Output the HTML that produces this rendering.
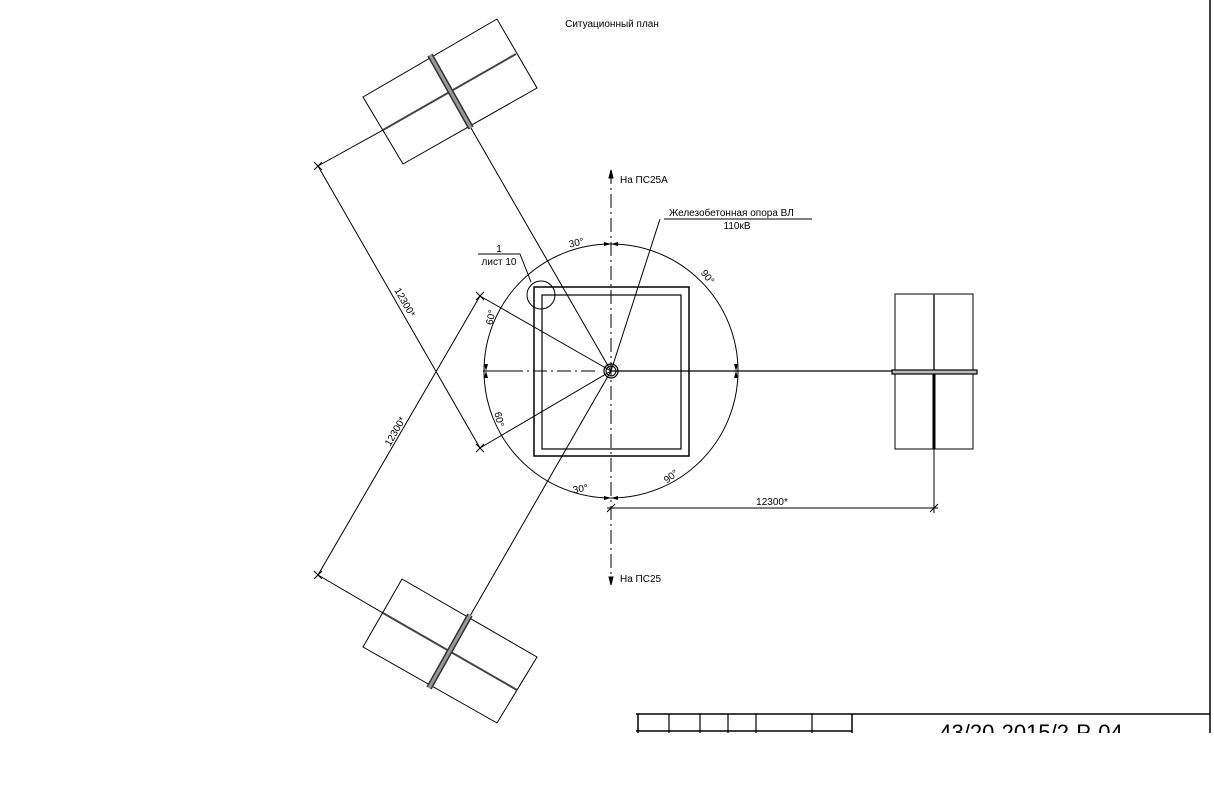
<!DOCTYPE html>
<html><head><meta charset="utf-8"><style>
html,body{margin:0;padding:0;background:#fff;}
svg{display:block;}
text{font-family:"Liberation Sans",sans-serif;fill:#000;}
</style></head><body>
<svg width="1214" height="787" viewBox="0 0 1214 787" xmlns="http://www.w3.org/2000/svg">
<g stroke="#000" fill="none" stroke-width="1">
<!-- frame -->
<line x1="1210" y1="0" x2="1210" y2="733" stroke-width="1.5"/>
<line x1="636" y1="714" x2="1210" y2="714" stroke-width="1.5"/>
<line x1="636" y1="731" x2="852" y2="731" stroke-width="1.5"/>
<line x1="638" y1="714" x2="638" y2="733" stroke-width="1.5"/>
<line x1="669" y1="714" x2="669" y2="733" stroke-width="1.2"/>
<line x1="700" y1="714" x2="700" y2="733" stroke-width="1.2"/>
<line x1="728" y1="714" x2="728" y2="733" stroke-width="1.2"/>
<line x1="756" y1="714" x2="756" y2="733" stroke-width="1.2"/>
<line x1="812" y1="714" x2="812" y2="733" stroke-width="1.2"/>
<line x1="852" y1="714" x2="852" y2="733" stroke-width="1.5"/>

<!-- big circle -->
<circle cx="611" cy="371" r="127" stroke-width="1"/>
<!-- square -->
<rect x="534" y="287" width="155" height="169" stroke-width="1.5"/>
<rect x="542" y="295" width="139" height="154" stroke-width="1.2"/>
<!-- axes -->
<line x1="611" y1="170" x2="611" y2="585" stroke-dasharray="14,4,2,4" stroke-width="1"/>
<line x1="483" y1="371" x2="611" y2="371" stroke-dasharray="40,4,2,4,14,4,2,4,14,4,2,4,14" stroke-width="1"/>
<line x1="611" y1="371" x2="892" y2="371" stroke-width="1.2"/>
<path d="M611,170 l-2,8 l4,0 z M611,585 l-2,-8 l4,0 z" fill="#000"/>
<circle cx="611" cy="371" r="7" stroke-width="1.2"/>
<circle cx="611" cy="371" r="5" stroke-width="1"/>
<!-- radial lines -->
<line x1="611" y1="371" x2="471" y2="128" stroke-width="1"/>
<line x1="611" y1="371" x2="470" y2="616" stroke-width="1"/>
<line x1="611" y1="371" x2="480" y2="296" stroke-width="1"/>
<line x1="611" y1="371" x2="480" y2="448" stroke-width="1"/>
<line x1="611" y1="371" x2="660" y2="219" stroke-width="1"/>
<!-- leader -->
<line x1="664" y1="219" x2="812" y2="219" stroke-width="1"/>
<line x1="478" y1="254" x2="520" y2="254" stroke-width="1"/>
<line x1="520" y1="254" x2="531" y2="282" stroke-width="1"/>
<circle cx="541" cy="295" r="14" stroke-width="1"/>
<!-- dimension lines -->
<line x1="318" y1="166" x2="480" y2="448" stroke-width="1"/>
<line x1="318" y1="166" x2="383" y2="130" stroke-width="1"/>
<line x1="480" y1="296" x2="318" y2="575" stroke-width="1"/>
<line x1="318" y1="575" x2="383" y2="613" stroke-width="1"/>
<line x1="607" y1="508" x2="938" y2="508" stroke-width="1"/>
<line x1="934" y1="449" x2="934" y2="513" stroke-width="1"/>
<g stroke-width="1">
<path d="M314,162 l8,8 M314,170 l8,-8"/>
<path d="M476,444 l8,8 M476,452 l8,-8"/>
<path d="M476,292 l8,8 M476,300 l8,-8"/>
<path d="M314,571 l8,8 M314,579 l8,-8"/>
<path d="M607,512 l8,-8 M930,512 l8,-8"/>
</g>
<!-- top transformer -->
<polygon points="363,97 497,19 537,88 403,164" stroke-width="1"/>
<line x1="383" y1="130" x2="516" y2="54" stroke-width="2" stroke="#444"/>
<line x1="430" y1="55" x2="471" y2="128" stroke-width="6" stroke="#333"/>
<line x1="430" y1="55" x2="471" y2="128" stroke-width="3" stroke="#999"/>
<!-- bottom transformer -->
<polygon points="363,647 402,579 537,657 497,723" stroke-width="1"/>
<line x1="383" y1="613" x2="517" y2="690" stroke-width="2" stroke="#444"/>
<line x1="470" y1="615" x2="429" y2="688" stroke-width="6" stroke="#333"/>
<line x1="470" y1="615" x2="429" y2="688" stroke-width="3" stroke="#999"/>
<!-- right transformer -->
<rect x="895" y="294" width="78" height="155" stroke-width="1"/>
<line x1="934" y1="294" x2="934" y2="370" stroke-width="2" stroke="#555"/>
<line x1="934" y1="374" x2="934" y2="449" stroke-width="3"/>
<rect x="892" y="370" width="85" height="4" stroke-width="1.2" fill="#bbb"/>
<!-- arc arrows -->
<g fill="#000" stroke="none">
<path d="M486,371 l-2,-7 l4,0 z"/><path d="M486,371 l-2,7 l4,0 z"/>
<path d="M736,371 l-2,-7 l4,0 z"/><path d="M736,371 l-2,7 l4,0 z"/>
<path d="M611,498 l-7,-2 l0,4 z"/><path d="M611,498 l7,-2 l0,4 z"/>
<path d="M611,244 l-7,-2 l0,4 z"/><path d="M611,244 l7,-2 l0,4 z"/>
</g>
</g>
<!-- text -->
<text x="612" y="27" font-size="10" text-anchor="middle">Ситуационный план</text>
<text x="620" y="183" font-size="10">На ПС25А</text>
<text x="620" y="582" font-size="10">На ПС25</text>
<text x="669" y="216" font-size="10">Железобетонная опора ВЛ</text>
<text x="737" y="229" font-size="10" text-anchor="middle">110кВ</text>
<text x="499" y="252" font-size="10" text-anchor="middle">1</text>
<text x="499" y="265" font-size="10" text-anchor="middle">лист 10</text>
<text font-size="10" transform="translate(577,246) rotate(-12)" text-anchor="middle">30°</text>
<text font-size="10" transform="translate(705,279) rotate(52)" text-anchor="middle">90°</text>
<text font-size="10" transform="translate(494,318) rotate(-78)" text-anchor="middle">60°</text>
<text font-size="10" transform="translate(496,420) rotate(78)" text-anchor="middle">60°</text>
<text font-size="10" transform="translate(581,492) rotate(-10)" text-anchor="middle">30°</text>
<text font-size="10" transform="translate(673,479) rotate(-38)" text-anchor="middle">90°</text>
<text font-size="10" transform="translate(402,304) rotate(60)" text-anchor="middle">12300*</text>
<text font-size="10" transform="translate(398,433) rotate(-60)" text-anchor="middle">12300*</text>
<text font-size="10" x="772" y="505" text-anchor="middle">12300*</text>
<svg x="850" y="714" width="360" height="19" overflow="hidden">
<text x="181" y="26" font-size="22" text-anchor="middle">43/20-2015/2-P-04</text>
</svg>
</svg>
</body></html>
